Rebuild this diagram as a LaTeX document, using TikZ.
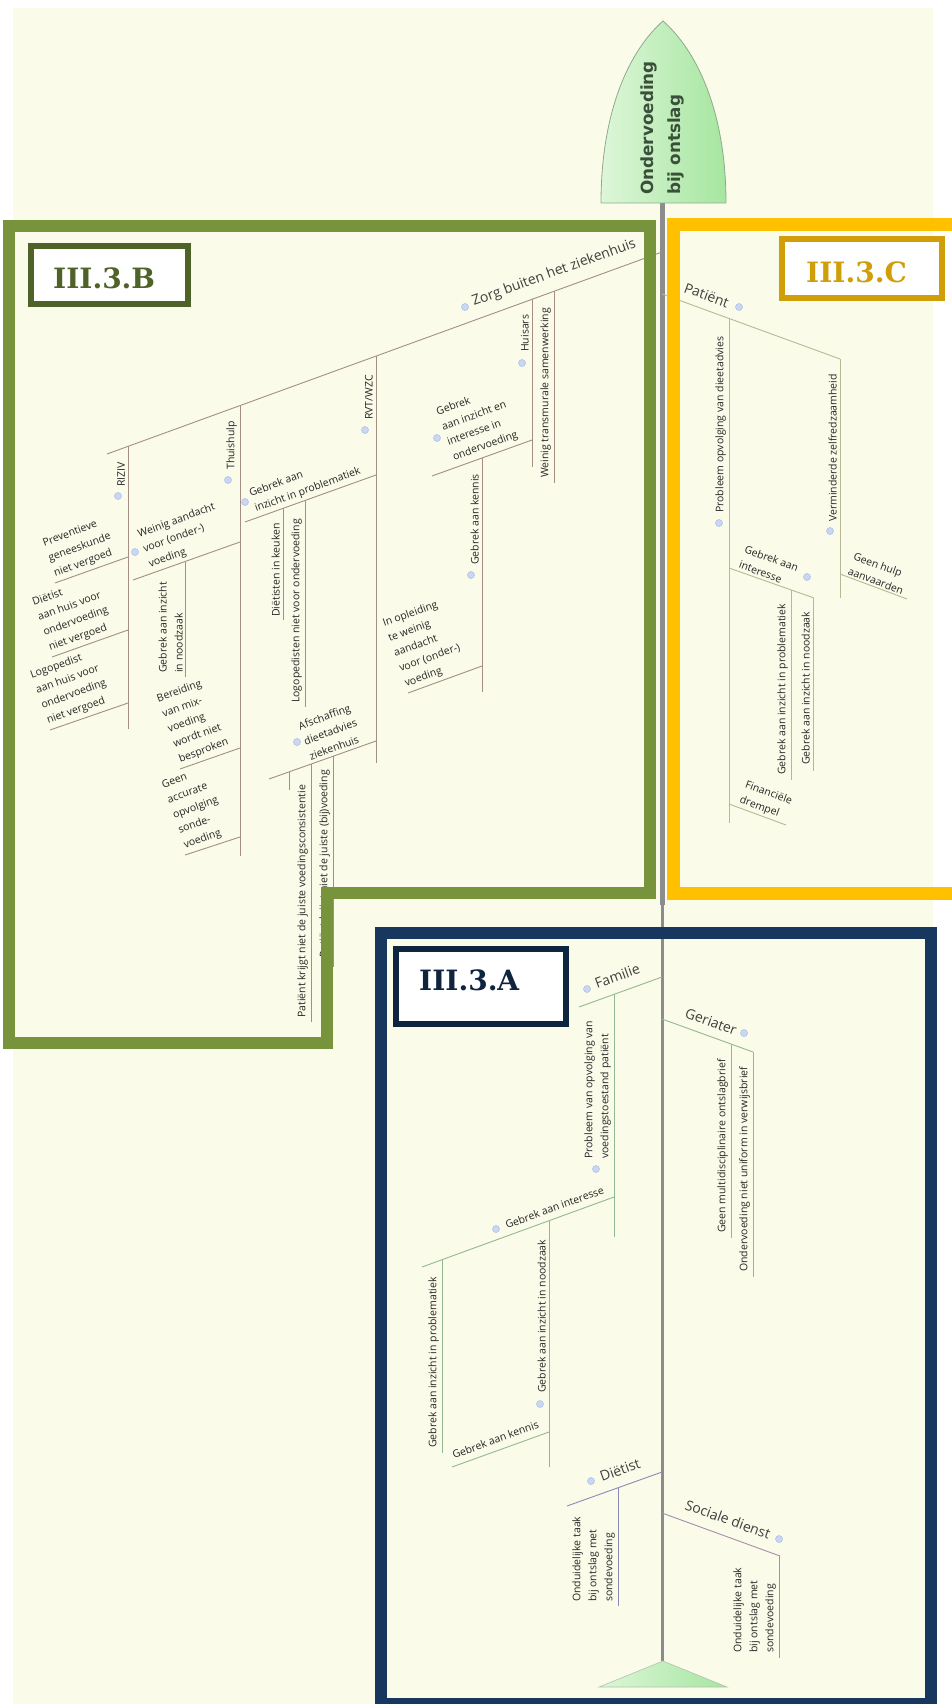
\documentclass[tikz,border=0pt]{standalone}
\usepackage{fontspec}
\setmainfont{Open Sans}
\newfontfamily\headfont{DejaVu Sans}
\newfontfamily\tagfont{DejaVu Serif}
\usetikzlibrary{calc}
\definecolor{cream}{HTML}{FBFBE9}
\definecolor{fB}{HTML}{77933C}
\definecolor{lB}{HTML}{4F6228}
\definecolor{fC}{HTML}{FFC000}
\definecolor{lC}{HTML}{CF9E08}
\definecolor{fA}{HTML}{17375E}
\definecolor{lA}{HTML}{0F243E}
\definecolor{spinec}{HTML}{8C8C8C}
\definecolor{boneBc}{HTML}{A58E84}
\definecolor{boneCc}{HTML}{B8B993}
\definecolor{boneAc}{HTML}{93B893}
\definecolor{boneDc}{HTML}{8A8AB6}
\definecolor{boneSc}{HTML}{A88EAA}
\definecolor{txtc}{HTML}{262626}
\definecolor{catc}{HTML}{404040}
\definecolor{infof}{HTML}{C9D7F2}
\definecolor{infod}{HTML}{A9BDE6}
\definecolor{headL}{HTML}{DDF6D8}
\definecolor{headR}{HTML}{A6E6A0}
\definecolor{headD}{HTML}{8EAA8E}
\definecolor{headT}{HTML}{3B503B}
\tikzset{
  txt/.style={font=\fontsize{10.5}{16}\selectfont, text=txtc, inner sep=0pt, align=left},
  cat/.style={font=\fontsize{14}{16}\selectfont, text=catc, inner sep=0pt, anchor=base west},
  vtxt/.style={txt, rotate=90, anchor=south west},
  utxt/.style={txt, rotate=20, anchor=south west},
  dtxt/.style={txt, rotate=-20, anchor=south west},
  info/.style={circle, fill=infof, draw=infod, line width=0.5pt, minimum size=7pt, inner sep=0pt},
  boneB/.style={draw=boneBc, line width=0.9pt},
  boneC/.style={draw=boneCc, line width=0.9pt},
  boneA/.style={draw=boneAc, line width=0.9pt},
  boneD/.style={draw=boneDc, line width=0.9pt},
  boneS/.style={draw=boneSc, line width=0.9pt},
  frame/.style={line width=12pt, line join=miter},
  tagbox/.style={fill=white, line width=6pt, line join=miter},
  tagtxt/.style={font=\tagfont\bfseries\fontsize{28}{30}\selectfont, inner sep=0pt, anchor=base west}
}
\begin{document}
\begin{tikzpicture}[x=1pt,y=-1pt]
\useasboundingbox (0,0) rectangle (952,1704);
\clip (0,0) rectangle (952,1704);
\fill[white] (0,0) rectangle (952,1704);
\fill[cream] (13,8) rectangle (933,1704);

% spine
\coordinate (sT) at (662.5,203);
\coordinate (sM) at (662.5,905);
\coordinate (sB) at (662.5,1661);
\draw[spinec, line width=5pt] (sT) -- (sM);
\draw[spinec, line width=3pt] (sM) -- (sB);

% head
\path[left color=headL, right color=headR, draw=headD, line width=0.8pt]
  (601,203) .. controls (601,110) and (630,50) .. (663,21)
  .. controls (696,50) and (726,110) .. (726,203) -- cycle;
\node[font=\headfont\bfseries\fontsize{16.8}{18}\selectfont, text=headT, rotate=90, anchor=base west, inner sep=0pt] (h1) at (653,195) {Ondervoeding};
\node[font=\headfont\bfseries\fontsize{16.8}{18}\selectfont, text=headT, rotate=90, anchor=base west, inner sep=0pt] (h2) at (680,195) {bij ontslag};

% tail
\path[left color=headL, right color=headR, draw=headD!70, line width=0.6pt]
  (599,1687) -- (663,1661) -- (727,1687) -- cycle;

% ================= B : Zorg buiten het ziekenhuis
\coordinate (zR) at (662,252); \coordinate (zL) at (107,454);
\draw[boneB] (zR) -- (zL);
\node[info] (zI) at (465,307) {};
\node[cat, rotate=20] (zT) at (474,306) {Zorg buiten het ziekenhuis};

% RIZIV
\coordinate (r1a) at (128,446); \coordinate (r1b) at (128,729);
\draw[boneB] (r1a) -- (r1b);
\node[vtxt] (r1t) at (125,487) {RIZIV};
\node[info] (r1i) at (118,496) {};
\coordinate (p1a) at (128,557); \coordinate (p1b) at (55,583);
\draw[boneB] (p1a) -- (p1b);
\node[utxt] (p1t) at (56,579) {Preventieve\\geneeskunde\\niet vergoed};
\coordinate (p2a) at (128,630); \coordinate (p2b) at (52,657);
\draw[boneB] (p2a) -- (p2b);
\node[utxt] (p2t) at (51,653.5) {Diëtist\\aan huis voor\\ondervoeding\\niet vergoed};
\coordinate (p3a) at (128,703); \coordinate (p3b) at (50,730);
\draw[boneB] (p3a) -- (p3b);
\node[utxt] (p3t) at (49,726.5) {Logopedist\\aan huis voor\\ondervoeding\\niet vergoed};

% Thuishulp
\coordinate (t1a) at (240,406); \coordinate (t1b) at (240,856);
\draw[boneB] (t1a) -- (t1b);
\node[vtxt] (t1t) at (237,470) {Thuishulp};
\node[info] (t1i) at (228,480) {};
\coordinate (w1a) at (240,542); \coordinate (w1b) at (133,580);
\draw[boneB] (w1a) -- (w1b);
\node[utxt] (w1t) at (151,570) {Weinig aandacht\\voor (onder-)\\voeding};
\node[info] (w1i) at (135,552) {};
\coordinate (g1a) at (185,562); \coordinate (g1b) at (185,677);
\draw[boneB] (g1a) -- (g1b);
\node[vtxt] (g1t) at (183,673) {Gebrek aan inzicht\\in noodzaak};
\coordinate (b1a) at (240,748); \coordinate (b1b) at (180,769);
\draw[boneB] (b1a) -- (b1b);
\node[utxt] (b1t) at (181,765) {Bereiding\\van mix-\\voeding\\wordt niet\\besproken};
\coordinate (b2a) at (240,837); \coordinate (b2b) at (185,855);
\draw[boneB] (b2a) -- (b2b);
\node[utxt] (b2t) at (186,851) {Geen\\accurate\\opvolging\\sonde-\\voeding};

% RVT/WZC
\coordinate (v1a) at (376,356); \coordinate (v1b) at (376,763);
\draw[boneB] (v1a) -- (v1b);
\node[vtxt] (v1t) at (373,420) {RVT/WZC};
\node[info] (v1i) at (365,430) {};
\coordinate (v2a) at (376,475); \coordinate (v2b) at (245,522);
\draw[boneB] (v2a) -- (v2b);
\node[utxt] (v2t) at (257,514.5) {Gebrek aan\\inzicht in problematiek};
\node[info] (v2i) at (245,502) {};
\coordinate (k1a) at (283,508); \coordinate (k1b) at (283,620);
\draw[boneB] (k1a) -- (k1b);
\node[vtxt] (k1t) at (280,617) {Diëtisten in keuken};
\coordinate (k2a) at (305,500); \coordinate (k2b) at (305,707);
\draw[boneB] (k2a) -- (k2b);
\node[vtxt] (k2t) at (302,703) {Logopedisten niet voor ondervoeding};
\coordinate (af1) at (376,741); \coordinate (af2) at (269,779);
\draw[boneB] (af1) -- (af2);
\node[utxt] (aft) at (311,760.5) {Afschaffing\\dieetadvies\\ziekenhuis};
\node[info] (afi) at (297,742) {};
\coordinate (st1) at (289,772); \coordinate (st2) at (289,790);
\draw[boneB] (st1) -- (st2);
\coordinate (pk1a) at (311,764); \coordinate (pk1b) at (311,1022);
\draw[boneB] (pk1a) -- (pk1b);
\node[vtxt] (pk1t) at (308,1018) {Patiënt krijgt niet de juiste voedingsconsistentie};
\coordinate (pk2a) at (333,756); \coordinate (pk2b) at (333,967);
\draw[boneB] (pk2a) -- (pk2b);
\node[txt, rotate=90, anchor=south east] (pk2t) at (330,770) {Patiënt krijgt niet de juiste (bij)voeding};

% Huisars
\coordinate (hu1) at (532,299); \coordinate (hu2) at (532,467);
\draw[boneB] (hu1) -- (hu2);
\node[vtxt] (hut) at (529,352) {Huisars};
\node[info] (hui) at (522,363) {};
\coordinate (gi1) at (532,440); \coordinate (gi2) at (432,476);
\draw[boneB] (gi1) -- (gi2);
\node[utxt] (git) at (455,463) {Gebrek\\aan inzicht en\\interesse in\\ondervoeding};
\node[info] (gii) at (437,438) {};
\coordinate (gk1) at (482,458); \coordinate (gk2) at (482,692);
\draw[boneB] (gk1) -- (gk2);
\node[vtxt] (gkt) at (479,565) {Gebrek aan kennis};
\node[info] (gki) at (471,575) {};
\coordinate (io1) at (482,666); \coordinate (io2) at (408,693);
\draw[boneB] (io1) -- (io2);
\node[utxt] (iot) at (407,689.5) {In opleiding\\te weinig\\aandacht\\voor (onder-)\\voeding};
\coordinate (ws1) at (554,291); \coordinate (ws2) at (554,483);
\draw[boneB] (ws1) -- (ws2);
\node[vtxt] (wst) at (551,478) {Weinig transmurale samenwerking};

% ================= C : Patiënt
\coordinate (pa1) at (662,294); \coordinate (pa2) at (840,359);
\draw[boneC] (pa1) -- (pa2);
\node[cat, rotate=-20] (pat) at (683,292) {Patiënt};
\node[info] (pai) at (739,307) {};
\coordinate (po1) at (729,318.5); \coordinate (po2) at (729,823);
\draw[boneC] (po1) -- (po2);
\node[vtxt] (pot) at (726,513) {Probleem opvolging van dieetadvies};
\node[info] (poi) at (719,523) {};
\coordinate (ci1) at (729,568); \coordinate (ci2) at (814,598);
\draw[boneC] (ci1) -- (ci2);
\node[dtxt] (cit) at (738,568) {Gebrek aan\\interesse};
\node[info] (cii) at (807,577) {};
\coordinate (cp1) at (791,590); \coordinate (cp2) at (791,780);
\draw[boneC] (cp1) -- (cp2);
\node[vtxt] (cpt) at (788,775) {Gebrek aan inzicht in problematiek};
\coordinate (cn1) at (813,598); \coordinate (cn2) at (813,771);
\draw[boneC] (cn1) -- (cn2);
\node[vtxt] (cnt) at (810,765) {Gebrek aan inzicht in noodzaak};
\coordinate (fi1) at (729,804); \coordinate (fi2) at (786,825);
\draw[boneC] (fi1) -- (fi2);
\node[dtxt] (fit) at (738,805) {Financiële\\drempel};
\coordinate (vz1) at (840,359); \coordinate (vz2) at (840,598);
\draw[boneC] (vz1) -- (vz2);
\node[vtxt] (vzt) at (837,522) {Verminderde zelfredzaamheid};
\node[info] (vzi) at (830,531) {};
\coordinate (gh1) at (840,574); \coordinate (gh2) at (907,599);
\draw[boneC] (gh1) -- (gh2);
\node[dtxt] (ght) at (847,575) {Geen hulp\\aanvaarden};

% ================= A
% Familie
\coordinate (fa1) at (662,977); \coordinate (fa2) at (579,1007);
\draw[boneA] (fa1) -- (fa2);
\node[cat, rotate=20] (fat) at (597,989) {Familie};
\node[info] (fai) at (587,989) {};
\coordinate (pv1) at (614,994); \coordinate (pv2) at (614,1237);
\draw[boneA] (pv1) -- (pv2);
\node[vtxt] (pvt) at (611,1159) {Probleem van opvolging van\\voedingstoestand patiënt};
\node[info] (pvi) at (596,1169) {};
\coordinate (ai1) at (614,1197); \coordinate (ai2) at (422,1267);
\draw[boneA] (ai1) -- (ai2);
\node[txt, rotate=20, anchor=base west] (ait) at (507,1229) {Gebrek aan interesse};
\node[info] (aii) at (496,1229) {};
\coordinate (ap1) at (442,1260); \coordinate (ap2) at (442,1453);
\draw[boneA] (ap1) -- (ap2);
\node[vtxt] (apt) at (439,1448) {Gebrek aan inzicht in problematiek};
\coordinate (an1) at (549,1221); \coordinate (an2) at (549,1467);
\draw[boneA] (an1) -- (an2);
\node[vtxt] (ant) at (546,1393) {Gebrek aan inzicht in noodzaak};
\node[info] (ani) at (540,1404) {};
\coordinate (ak1) at (549,1432); \coordinate (ak2) at (452,1467);
\draw[boneA] (ak1) -- (ak2);
\node[txt, rotate=20, anchor=base west] (akt) at (454,1459) {Gebrek aan kennis};
% Geriater
\coordinate (ge1) at (662,1019); \coordinate (ge2) at (753,1052);
\draw[boneA] (ge1) -- (ge2);
\node[cat, rotate=-20] (get) at (684,1017) {Geriater};
\node[info] (gei) at (744,1033) {};
\coordinate (gm1) at (731,1044); \coordinate (gm2) at (731,1238);
\draw[boneA] (gm1) -- (gm2);
\node[vtxt] (gmt) at (728,1233) {Geen multidisciplinaire ontslagbrief};
\coordinate (gu1) at (753,1052); \coordinate (gu2) at (753,1277);
\draw[boneA] (gu1) -- (gu2);
\node[vtxt] (gut) at (750,1272) {Ondervoeding niet uniform in verwijsbrief};
% Dietist
\coordinate (di1) at (662,1472); \coordinate (di2) at (567,1506);
\draw[boneD] (di1) -- (di2);
\node[cat, rotate=20] (dit) at (602,1482) {Diëtist};
\node[info] (dii) at (591,1481) {};
\coordinate (do1) at (618,1488); \coordinate (do2) at (618,1606);
\draw[boneD] (do1) -- (do2);
\node[vtxt] (dot) at (615,1602) {Onduidelijke taak\\bij ontslag met\\sondevoeding};
% Sociale dienst
\coordinate (so1) at (662,1513); \coordinate (so2) at (780,1556);
\draw[boneS] (so1) -- (so2);
\node[cat, rotate=-20] (sot) at (684,1509) {Sociale dienst};
\node[info] (soi) at (779,1539) {};
\coordinate (sd1) at (779,1556); \coordinate (sd2) at (779,1658);
\draw[boneS] (sd1) -- (sd2);
\node[vtxt] (sdt) at (776,1653) {Onduidelijke taak\\bij ontslag met\\sondevoeding};

% ================= frames
\draw[frame, fB] (9,226.5) -- (649.5,226.5) -- (649.5,892.5) -- (327,892.5) -- (327,1042.5) -- (9,1042.5) -- cycle;
\draw[frame, fC, line width=13pt] (673.5,224.5) rectangle (958,893.5);
\draw[frame, fA] (380.5,933) rectangle (931,1704);

% tags
\draw[tagbox, draw=lB] (31,246) rectangle (188,304);
\node[tagtxt, text=lB] (tagB) at (53,288) {III.3.B};
\draw[tagbox, draw=lC] (782,239) rectangle (942,298);
\node[tagtxt, text=lC] (tagC) at (806,282) {III.3.C};
\draw[tagbox, draw=lA] (396,949) rectangle (566,1024);
\node[tagtxt, text=lA] (tagA) at (419,990) {III.3.A};
\end{tikzpicture}
\end{document}
